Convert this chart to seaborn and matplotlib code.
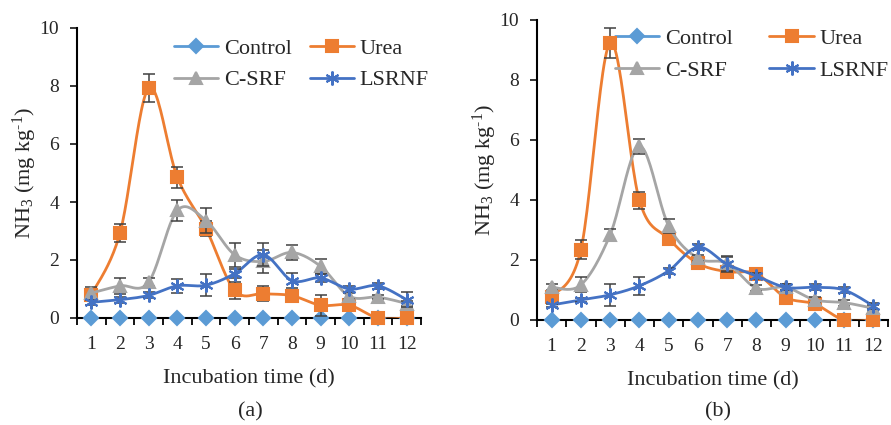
import numpy as np
import pandas as pd
import matplotlib
matplotlib.use("Agg")
import matplotlib.pyplot as plt
from matplotlib.lines import Line2D
import seaborn as sns

days = list(range(1, 13))
series = ["Control", "Urea", "C-SRF", "LSRNF"]

# panel (a)
control_a = [0, 0, 0, 0, 0, 0, 0, 0, 0, 0, 0, 0]
urea_a = [0.80, 2.93, 7.93, 4.85, 3.08, 0.95, 0.84, 0.77, 0.44, 0.44, 0.0, 0.0]
csrf_a = [0.86, 1.11, 1.24, 3.71, 3.36, 2.18, 1.95, 2.26, 1.78, 0.75, 0.72, 0.50]
lsrnf_a = [0.54, 0.63, 0.78, 1.11, 1.13, 1.53, 2.18, 1.29, 1.38, 1.00, 1.11, 0.63]
control_a_err = [0, 0, 0, 0, 0, 0, 0, 0, 0, 0, 0, 0]
urea_a_err = [0.10, 0.30, 0.47, 0.37, 0.25, 0.30, 0.25, 0.10, 0.37, 0.10, 0.05, 0.05]
csrf_a_err = [0.20, 0.27, 0.15, 0.36, 0.43, 0.41, 0.40, 0.25, 0.25, 0.10, 0.07, 0.10]
lsrnf_a_err = [0.08, 0.10, 0.10, 0.25, 0.38, 0.15, 0.40, 0.25, 0.15, 0.10, 0.10, 0.25]

# panel (b)
control_b = [0, 0, 0, 0, 0, 0, 0, 0, 0, 0, 0, 0]
urea_b = [0.78, 2.34, 9.24, 3.99, 2.71, 1.89, 1.61, 1.54, 0.75, 0.53, 0.0, 0.0]
csrf_b = [1.09, 1.17, 2.84, 5.79, 3.14, 2.06, 1.89, 1.06, 1.09, 0.67, 0.58, 0.39]
lsrnf_b = [0.50, 0.67, 0.84, 1.14, 1.64, 2.43, 1.86, 1.47, 1.09, 1.09, 1.00, 0.47]
control_b_err = [0, 0, 0, 0, 0, 0, 0, 0, 0, 0, 0, 0]
urea_b_err = [0.10, 0.32, 0.50, 0.28, 0.10, 0.10, 0.10, 0.10, 0.10, 0.10, 0.05, 0.05]
csrf_b_err = [0.10, 0.25, 0.20, 0.25, 0.24, 0.10, 0.25, 0.10, 0.10, 0.10, 0.10, 0.10]
lsrnf_b_err = [0.05, 0.08, 0.36, 0.29, 0.10, 0.10, 0.25, 0.10, 0.10, 0.10, 0.10, 0.10]

colors = {"Control": "#5B9BD5", "Urea": "#ED7D31", "C-SRF": "#A5A5A5", "LSRNF": "#4472C4"}
markers = {"Control": "D", "Urea": "s", "C-SRF": "^", "LSRNF": (6, 2, 0)}
msizes = {"Control": 7, "Urea": 8.5, "C-SRF": 9, "LSRNF": 10}

sns.set_style("ticks")
plt.rcParams["font.family"] = ["Liberation Serif", "DejaVu Serif"]
plt.rcParams["mathtext.fontset"] = "custom"
plt.rcParams["mathtext.rm"] = "Liberation Serif"
plt.rcParams["mathtext.it"] = "Liberation Serif"
plt.rcParams["mathtext.default"] = "regular"


def smooth(x, y, n=25):
    # excel-like smoothed line (bezier through the points)
    pts = np.column_stack([x, y]).astype(float)
    P = np.vstack([pts[0], pts, pts[-1]])
    t = np.linspace(0, 1, n)[:, None]
    out = []
    for i in range(len(pts) - 1):
        p0, p1, p2, p3 = P[i], P[i + 1], P[i + 2], P[i + 3]
        c1 = p1 + (p2 - p0) / 6
        c2 = p2 - (p3 - p1) / 6
        seg = (1 - t) ** 3 * p1 + 3 * (1 - t) ** 2 * t * c1 + 3 * (1 - t) * t ** 2 * c2 + t ** 3 * p2
        out.append(seg if i == 0 else seg[1:])
    out = np.vstack(out)
    return pd.DataFrame({"x": out[:, 0], "y": out[:, 1]})


def panel(ax, data, errs, leg_anchor, colspace):
    for k, name in enumerate(series):
        c = colors[name]
        sm = smooth(days, data[k])
        sns.lineplot(data=sm, x="x", y="y", ax=ax, color=c, lw=2.0, sort=False,
                     estimator=None, zorder=2 + k * 3)
        ax.errorbar(days, data[k], yerr=errs[k], fmt="none", ecolor="#404040",
                    elinewidth=1.1, capsize=4, capthick=1.1, zorder=3 + k * 3)
        ax.plot(days, data[k], ls="none", marker=markers[name], ms=msizes[name],
                color=c, mec=c, mew=1.5, zorder=4 + k * 3, clip_on=False)
    ax.set_xlim(0.5, 12.5)
    ax.set_ylim(0, 10)
    ax.set_yticks([0, 2, 4, 6, 8, 10])
    ax.set_xticks(np.arange(0.5, 13, 1))
    ax.set_xticklabels([])
    ax.set_xticks(days, minor=True)
    ax.set_xticklabels([str(d) for d in days], minor=True, fontsize=14)
    ax.tick_params(axis="x", which="major", direction="out", length=5, width=1.3, colors="black")
    ax.tick_params(axis="x", which="minor", length=0, pad=13)
    ax.tick_params(axis="y", direction="out", length=5, width=1.3, labelsize=14, pad=8)
    for s in ["top", "right"]:
        ax.spines[s].set_visible(False)
    for s in ["left", "bottom"]:
        ax.spines[s].set_linewidth(1.5)
        ax.spines[s].set_color("black")
    ax.set_xlabel("Incubation time (d)", fontsize=16, labelpad=12)
    ax.set_ylabel("NH$_3$ (mg kg$^{\u20101}$)", fontsize=16, labelpad=0)
    order = [0, 2, 1, 3]
    handles = [Line2D([0], [0], color=colors[series[i]], lw=2.0, marker=markers[series[i]],
                      ms=msizes[series[i]], mec=colors[series[i]], mew=1.5) for i in order]
    ax.legend(handles, [series[i] for i in order], loc="upper left", bbox_to_anchor=leg_anchor,
              ncol=2, frameon=False, fontsize=16, handlelength=2.0, handletextpad=0.25,
              columnspacing=colspace, labelspacing=0.5, borderpad=0, borderaxespad=0)


fig = plt.figure(figsize=(8.91, 4.25), dpi=100)
ax1 = fig.add_axes([77 / 891, 1 - 318 / 425, 344 / 891, 290 / 425])
ax2 = fig.add_axes([537 / 891, 1 - 320 / 425, 351 / 891, 300 / 425])

panel(ax1, [control_a, urea_a, csrf_a, lsrnf_a],
      [control_a_err, urea_a_err, csrf_a_err, lsrnf_a_err], (0.282, 0.965), 0.8)
panel(ax2, [control_b, urea_b, csrf_b, lsrnf_b],
      [control_b_err, urea_b_err, csrf_b_err, lsrnf_b_err], (0.222, 0.972), 1.65)

fig.text(250 / 891, 1 - 412 / 425, "(a)", ha="center", va="center", fontsize=16)
fig.text(718 / 891, 1 - 412 / 425, "(b)", ha="center", va="center", fontsize=16)

fig.savefig("out.png", dpi=100)
